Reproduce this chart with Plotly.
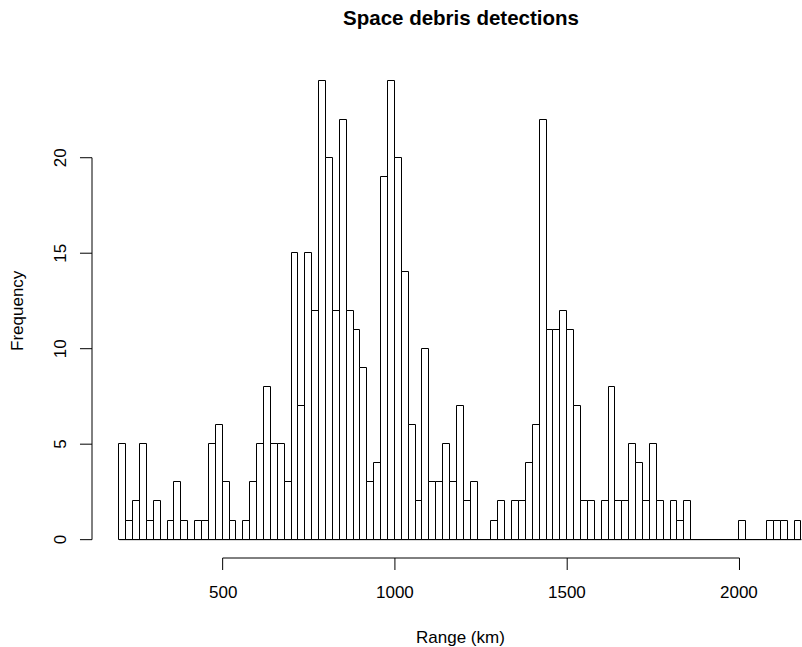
import plotly.graph_objects as go

# ---- data (bins of 20 km starting at 200 km) ----
bin_start = list(range(200, 2180, 20))
counts = [
    5, 1, 2, 5, 1, 2, 0, 1, 3, 1,          # 200-380
    0, 1, 1, 5, 6, 3, 1, 0, 1, 3,          # 400-580
    5, 8, 5, 5, 3, 15, 7, 15, 12, 24,      # 600-780
    20, 12, 22, 12, 11, 9, 3, 4, 19, 24,   # 800-980
    20, 14, 6, 2, 10, 3, 3, 5, 3, 7,       # 1000-1180
    2, 3, 0, 0, 1, 2, 0, 2, 2, 4,          # 1200-1380
    6, 22, 11, 11, 12, 11, 7, 2, 2, 0,     # 1400-1580
    2, 8, 2, 2, 5, 4, 2, 5, 2, 0,          # 1600-1780
    2, 1, 2, 0, 0, 0, 0, 0, 0, 0,          # 1800-1980
    1, 0, 0, 0, 1, 1, 1, 0, 1,             # 2000-2160
]
bin_width = 20
x_ticks = [500, 1000, 1500, 2000]
y_ticks = [0, 5, 10, 15, 20]
title = "Space debris detections"
x_label = "Range (km)"
y_label = "Frequency"

# ---- geometry (pixels) ----
W, H = 802, 647
L, R, T, B = 92.3, 0, 63.3, 88.7
pw, ph = W - L - R, H - T - B
font = "Liberation Sans, Arial, sans-serif"
fs = 17
center_px = 461  # centre of the (partly cropped) plot region

def px_x(p):  # pixel offset from plot left -> paper
    return p / pw

def px_y(p):  # pixel offset from plot bottom (positive up) -> paper
    return p / ph

fig = go.Figure()
fig.add_trace(go.Bar(
    x=bin_start, y=counts, width=bin_width, offset=0,
    marker=dict(color="white", line=dict(color="black", width=1)),
    hoverinfo="x+y", showlegend=False,
))

shapes = []
# baseline of histogram (zero-count bins show as line)
shapes.append(dict(type="line", xref="x", yref="y",
                   x0=bin_start[0], x1=bin_start[-1] + bin_width, y0=0, y1=0,
                   line=dict(color="black", width=1)))
# x axis
shapes.append(dict(type="line", xref="x", yref="paper",
                   x0=x_ticks[0], x1=x_ticks[-1], y0=0, y1=0,
                   line=dict(color="black", width=1)))
for t in x_ticks:
    shapes.append(dict(type="line", xref="x", yref="paper",
                       x0=t, x1=t, y0=0, y1=px_y(-12),
                       line=dict(color="black", width=1)))
# y axis
shapes.append(dict(type="line", xref="paper", yref="y",
                   x0=0, x1=0, y0=y_ticks[0], y1=y_ticks[-1],
                   line=dict(color="black", width=1)))
for t in y_ticks:
    shapes.append(dict(type="line", xref="paper", yref="y",
                       x0=0, x1=px_x(-12), y0=t, y1=t,
                       line=dict(color="black", width=1)))

ann = []
for t in x_ticks:
    ann.append(dict(xref="x", yref="paper", x=t, y=px_y(-34),
                    text=str(t), showarrow=False, xanchor="center", yanchor="middle",
                    font=dict(family=font, size=fs, color="black")))
for t in y_ticks:
    ann.append(dict(xref="paper", yref="y", x=px_x(-31.5), y=t,
                    text=str(t), showarrow=False, textangle=-90,
                    xanchor="center", yanchor="middle",
                    font=dict(family=font, size=fs, color="black")))
ann.append(dict(xref="paper", yref="paper", x=px_x(center_px - L), y=px_y(-79),
                text=x_label, showarrow=False, xanchor="center", yanchor="middle",
                font=dict(family=font, size=fs, color="black")))
ann.append(dict(xref="paper", yref="paper", x=px_x(-74.5), y=0.5,
                text=y_label, showarrow=False, textangle=-90,
                xanchor="center", yanchor="middle",
                font=dict(family=font, size=fs, color="black")))

fig.update_layout(
    width=W, height=H,
    margin=dict(l=L, r=R, t=T, b=B, pad=0),
    paper_bgcolor="white", plot_bgcolor="white",
    title=dict(text="<b>" + title + "</b>", x=center_px / W, xanchor="center",
               y=1 - 18 / H, yanchor="middle", xref="container", yref="container",
               font=dict(family=font, size=20.5, color="black")),
    xaxis=dict(range=[120.8, 2181.5], visible=False, fixedrange=True),
    yaxis=dict(range=[-0.96, 24.96], visible=False, fixedrange=True),
    shapes=shapes, annotations=ann, bargap=0,
)

fig.write_html("out.html")
